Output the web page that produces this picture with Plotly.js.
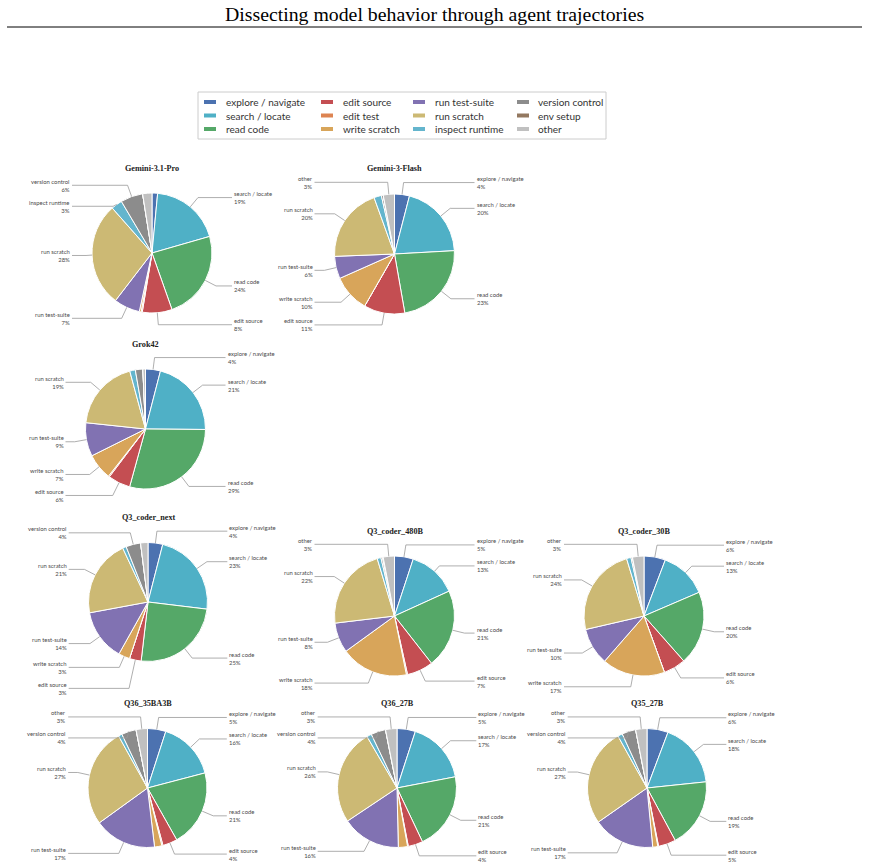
<!DOCTYPE html>
<html><head><meta charset="utf-8">
<script src="https://cdn.plot.ly/plotly-3.0.1.min.js"></script>
<style>html,body{margin:0;padding:0;background:#fff;}#chart{width:869px;height:865px;}</style>
</head><body><div id="chart"></div>
<script>
// ---------- DATA ----------
const categories = ['explore / navigate','search / locate','read code','edit source','edit test','write scratch','run test-suite','run scratch','inspect runtime','version control','env setup','other'];
const categoryColors = ['#4C72B0','#4FB0C6','#55A868','#C44E52','#DD8452','#D8A55A','#8172B2','#CCB974','#64B5CD','#8C8C8C','#937860','#C0C0C0'];
const modelNames = ['Gemini-3.1-Pro','Gemini-3-Flash','Grok42','Q3_coder_next','Q3_coder_480B','Q3_coder_30B','Q36_35BA3B','Q36_27B','Q35_27B'];
// shares (%) in category order
const gemini31Pro  = [1.5, 19, 24, 8, 0.3, 0.5, 7, 28, 3, 6, 0, 2.5];
const gemini3Flash = [4, 20, 23, 11, 0, 10, 6, 20, 2, 0.5, 0, 3];
const grok42       = [4, 21, 29, 6, 0.3, 7, 9, 19, 1.5, 2, 0, 0.7];
const q3CoderNext  = [4, 23, 25, 3.2, 0, 3.1, 14, 21, 1, 4, 0, 2];
const q3Coder480B  = [5, 13, 21, 7, 0.3, 18, 8, 22, 1, 0.4, 0.2, 3];
const q3Coder30B   = [5.8, 12.8, 20, 6, 0, 17, 10, 24, 1.2, 0.4, 0, 3.1];
const q36_35BA3B   = [5, 16, 21, 4, 0.3, 2, 17, 27, 1, 4, 0, 3.1];
const q36_27B      = [5, 17, 21, 4, 0.2, 2.5, 16, 26, 1.3, 4, 0, 3.1];
const q35_27B      = [5.8, 17.8, 19, 4.8, 0.2, 1.4, 17, 26.9, 1.3, 3.8, 0, 3.1];
const seriesList = [gemini31Pro, gemini3Flash, grok42, q3CoderNext, q3Coder480B, q3Coder30B, q36_35BA3B, q36_27B, q35_27B];
const chartTitle = 'Dissecting model behavior through agent trajectories';

// ---------- LAYOUT (pixels) ----------
const W = 869, H = 865;
const pieGeom = [
  {cx:152, cy:253, r:60}, {cx:394.5, cy:254, r:60},
  {cx:145.5, cy:429, r:60},
  {cx:148, cy:602, r:59.5}, {cx:394.5, cy:616, r:60}, {cx:644, cy:616, r:60},
  {cx:147.5, cy:788, r:59.5}, {cx:397, cy:788, r:59.5}, {cx:647, cy:788, r:59.5}
];
const px = x => x / W;
const py = y => 1 - y / H;

const traces = [];
const annotations = [];
const shapes = [];
const labelFont = {family:'Lato, sans-serif', size:5.9, color:'#4a4a4a'};
const lineColor = '#999';

annotations.push({xref:'paper', yref:'paper', x:0.5, y:py(14), text:chartTitle, showarrow:false,
  xanchor:'center', yanchor:'middle', font:{family:'Liberation Serif, serif', size:19.8, color:'#000'}});
shapes.push({type:'line', xref:'paper', yref:'paper', x0:px(7), x1:px(862), y0:py(27), y1:py(27), line:{color:'#000', width:1}});

seriesList.forEach((vals, k) => {
  const g = pieGeom[k];
  traces.push({
    type:'pie', labels:categories, values:vals, sort:false, direction:'clockwise', rotation:0,
    marker:{colors:categoryColors, line:{color:'#ffffff', width:1}},
    textinfo:'none', hoverinfo:'label+percent', showlegend:false,
    domain:{x:[px(g.cx - g.r), px(g.cx + g.r)], y:[py(g.cy + g.r), py(g.cy - g.r)]}
  });
  annotations.push({xref:'paper', yref:'paper', x:px(g.cx), y:py(g.cy - g.r - 25), text:'<b>' + modelNames[k] + '</b>',
    showarrow:false, xanchor:'center', yanchor:'middle', font:{family:'Liberation Serif, serif', size:8.2, color:'#222'}});

  const sum = vals.reduce((a, b) => a + b, 0);
  let cum = 0;
  const labs = [];
  vals.forEach((v, i) => {
    if (v <= 0) return;
    const f = (cum + v / 2) / sum;
    cum += v;
    const pct = v / sum * 100;
    if (pct < 3) return;
    const th = (90 - f * 360) * Math.PI / 180;
    const c = Math.cos(th), s = Math.sin(th);
    labs.push({name:categories[i], pct:Math.round(pct), c, s, side: c >= 0 ? 1 : -1,
      ex: g.cx + g.r * c, ey: g.cy - g.r * s, ly: g.cy - 1.2 * g.r * s});
  });
  [1, -1].forEach(side => {
    const arr = labs.filter(l => l.side === side).sort((a, b) => a.ly - b.ly);
    for (let j = 1; j < arr.length; j++) {
      if (arr[j].ly < arr[j-1].ly + 21) arr[j].ly = arr[j-1].ly + 21;
    }
  });
  labs.forEach(l => {
    const lx = g.cx + l.side * 1.35 * g.r;
    let cxp, cyp = l.ly;
    const ty = g.cy - l.ly;
    let ok = false;
    if (Math.abs(l.s) > 0.08) {
      const t = ty / l.s;
      if (t >= g.r * 1.02 && t <= g.r * 1.6) { cxp = g.cx + t * l.c; ok = true; }
    }
    if (!ok) cxp = g.cx + 1.1 * g.r * l.c;
    const endX = lx - l.side * 1;
    shapes.push({type:'path', xref:'paper', yref:'paper',
      path:`M ${px(l.ex)},${py(l.ey)} L ${px(cxp)},${py(cyp)} L ${px(endX)},${py(l.ly)}`,
      line:{color:lineColor, width:0.8}});
    const anchor = l.side > 0 ? 'left' : 'right';
    annotations.push({xref:'paper', yref:'paper', x:px(lx), y:py(l.ly), text:l.name + '<br>' + l.pct + '%',
      showarrow:false, xanchor:anchor, yanchor:'middle', align:anchor, borderpad:0, font:labelFont});
  });
});

// ---------- LEGEND (manual, 3 rows x 4 columns, column-major) ----------
shapes.push({type:'rect', xref:'paper', yref:'paper', x0:px(198), x1:px(606), y0:py(92), y1:py(139),
  line:{color:'#cccccc', width:1}, fillcolor:'rgba(255,255,255,0.9)'});
const legSwatchX = [204, 321, 413, 517];
const legTextX = [224, 341, 433, 536];
const legRowY = [102, 115.5, 129];
categories.forEach((name, i) => {
  const col = Math.floor(i / 3), row = i % 3;
  const y = legRowY[row];
  shapes.push({type:'rect', xref:'paper', yref:'paper', x0:px(legSwatchX[col]), x1:px(legSwatchX[col] + 12),
    y0:py(y - 2), y1:py(y + 2), line:{width:0}, fillcolor:categoryColors[i]});
  annotations.push({xref:'paper', yref:'paper', x:px(legTextX[col]), y:py(y), text:name, showarrow:false,
    xanchor:'left', yanchor:'middle', font:{family:'Lato, sans-serif', size:10, color:'#333'}});
});

Plotly.newPlot('chart', traces, {
  width:W, height:H, margin:{l:0, r:0, t:0, b:0}, paper_bgcolor:'#fff', plot_bgcolor:'#fff',
  showlegend:false, annotations, shapes
}, {displayModeBar:false, staticPlot:true});
</script>
</body></html>
